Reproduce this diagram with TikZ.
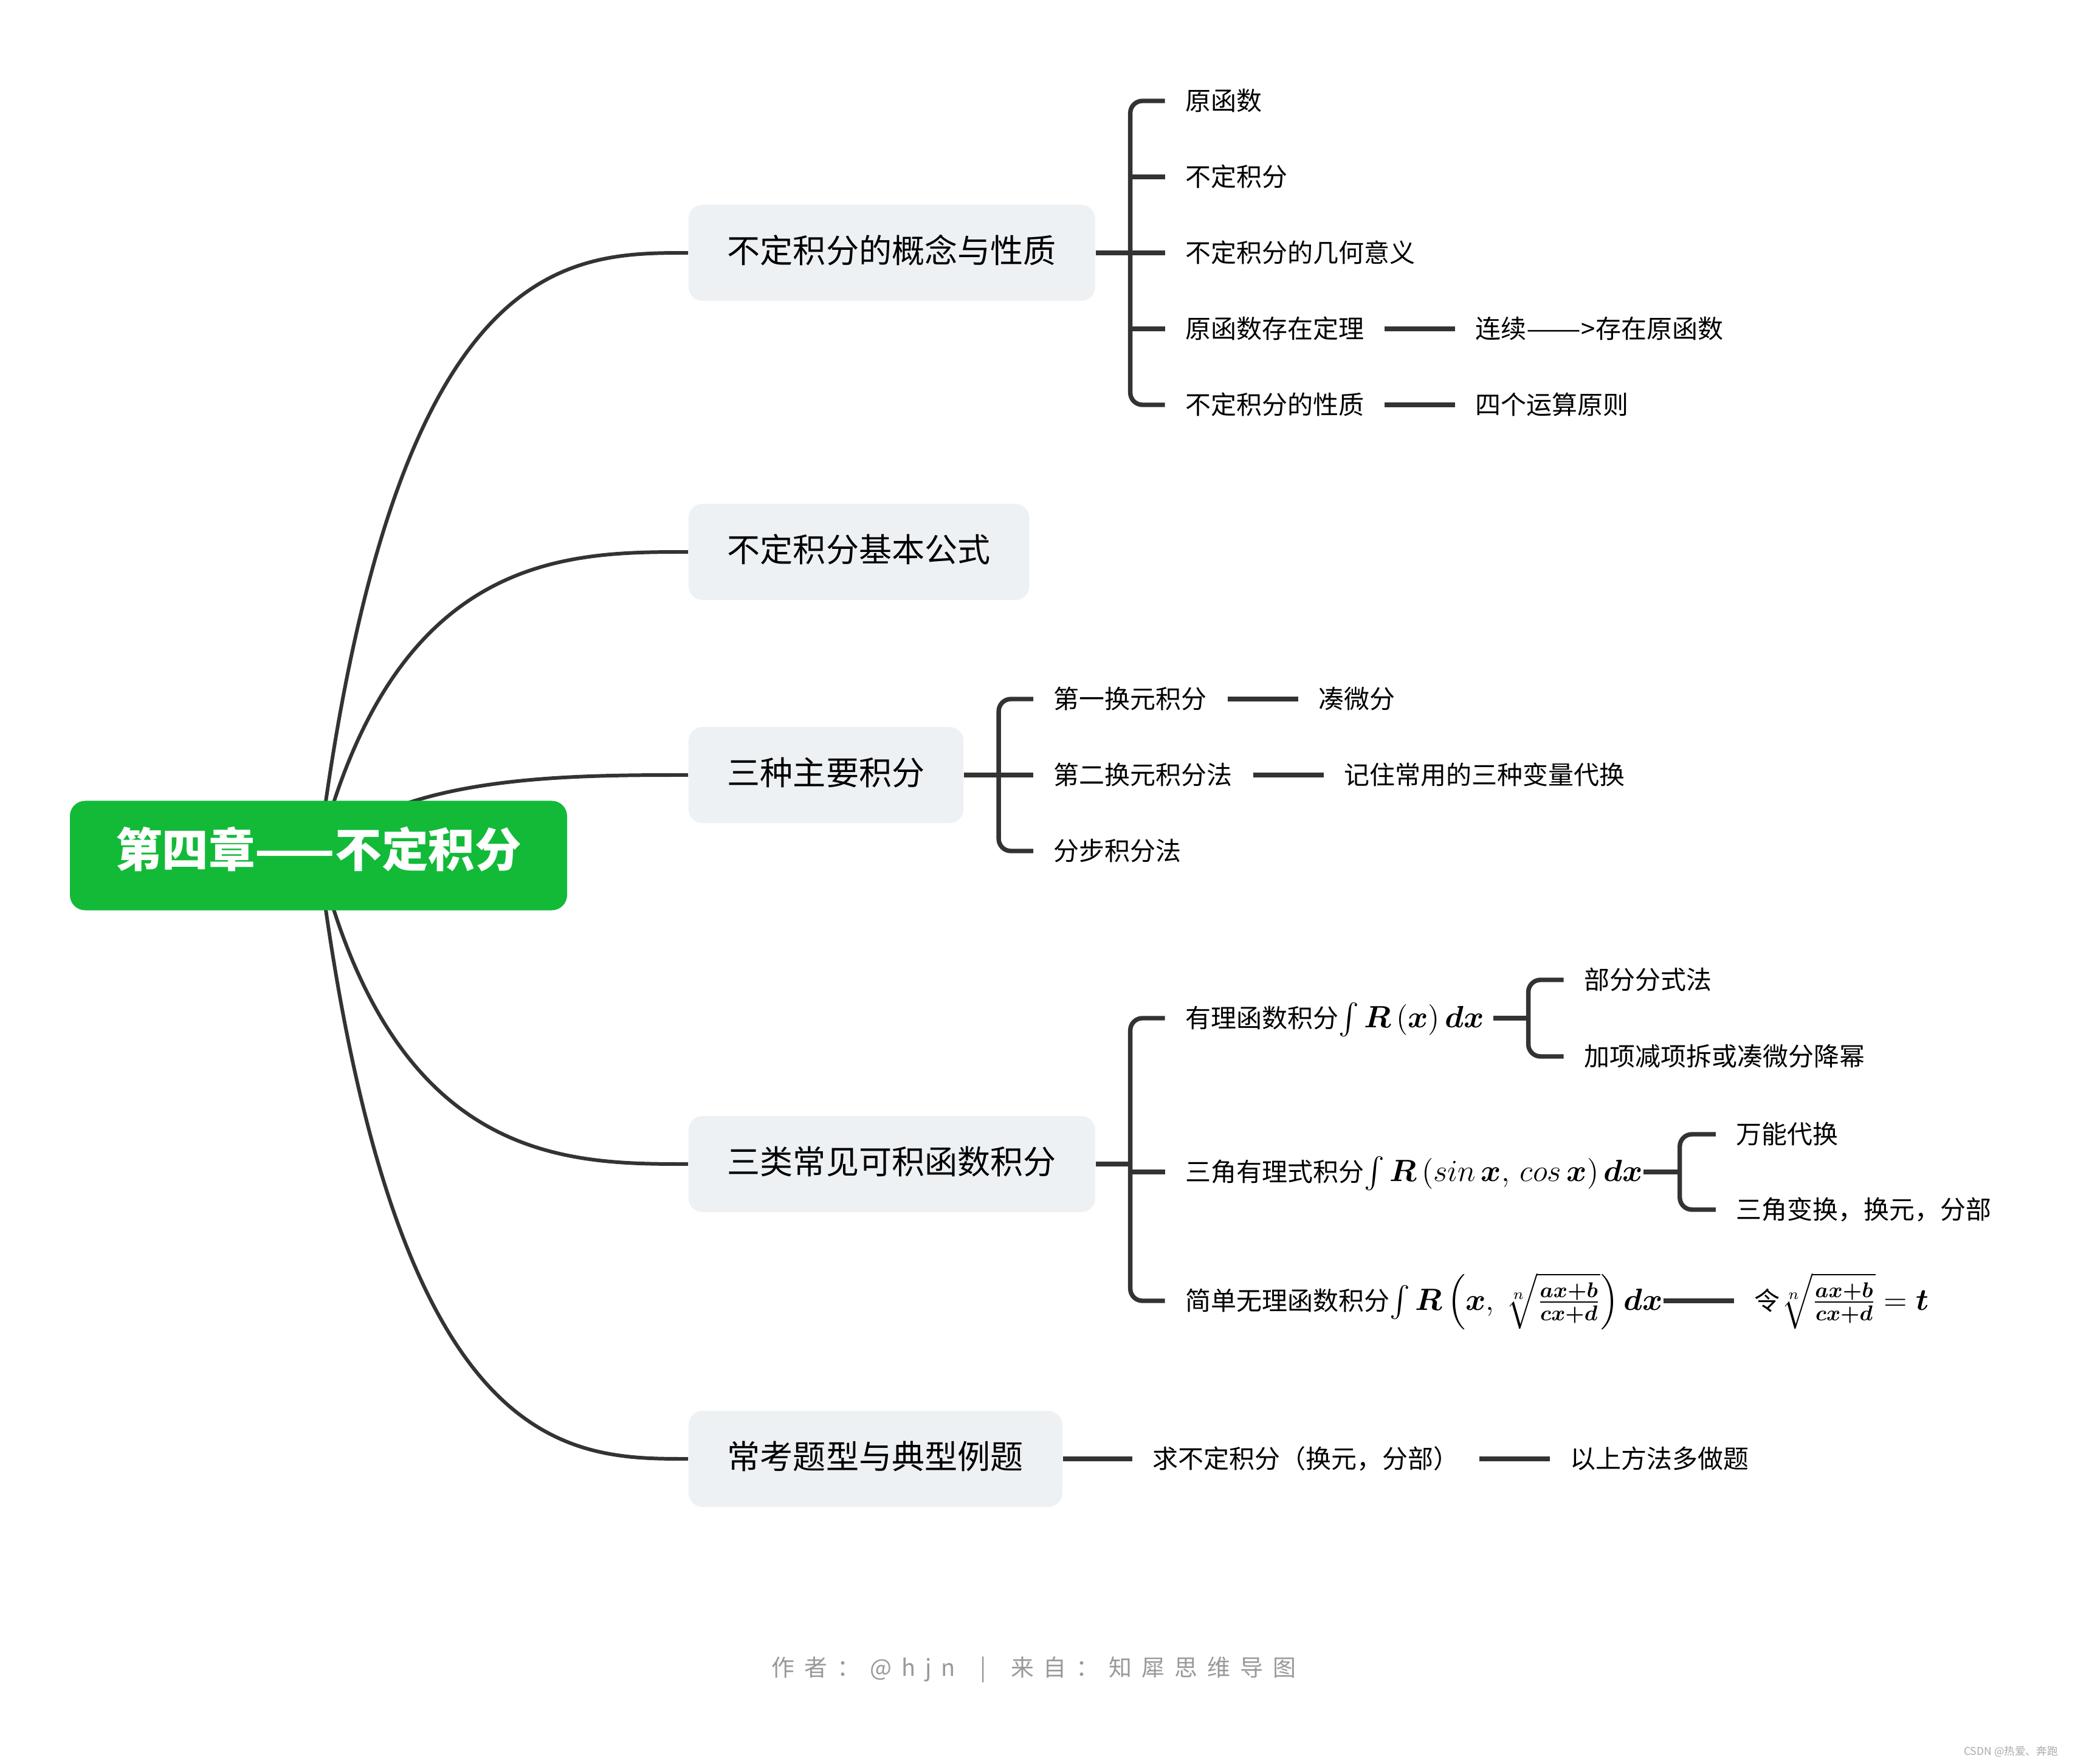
\documentclass[tikz,border=0pt]{standalone}
\usepackage{amsmath}
\usepackage[no-math]{fontspec}
\setmainfont{Noto Sans CJK SC}
\usetikzlibrary{positioning}
\usetikzlibrary{calc}

\definecolor{rootgreen}{HTML}{12BA38}
\definecolor{topicgray}{HTML}{EEF1F4}
\definecolor{linegray}{HTML}{333333}
\definecolor{footgray}{HTML}{999999}
\definecolor{markgray}{HTML}{AAAAAA}

\newcommand\fgap{\hspace{0.16cm}}
\newcommand\fml[1]{{\fontsize{14pt}{16pt}\selectfont$#1$}}

\tikzset{
  rootnode/.style={fill=rootgreen, text=white, rounded corners=0.25cm,
    minimum width=8.18cm, minimum height=1.8cm, inner sep=0pt,
    text height=1.2em, text depth=0.1em,
    font=\fontsize{21.8pt}{25pt}\selectfont\bfseries},
  topic/.style={fill=topicgray, rounded corners=0.23cm, anchor=west,
    inner xsep=0.64cm, inner ysep=0pt, minimum height=1.58cm,
    text height=1.0em, text depth=0.08em,
    font=\fontsize{15.4pt}{18pt}\selectfont},
  leaf/.style={inner xsep=0.33cm, inner ysep=0pt,
    text height=0.95em, text depth=0.09em,
    font=\fontsize{11.95pt}{14pt}\selectfont},
  formula/.style={leaf, inner xsep=0pt, execute at begin node={\hspace{0.33cm}}},
  stem/.style={draw=linegray, line width=1.7pt},
  branch/.style={draw=linegray, line width=2.1pt},
  bracket/.style={branch, rounded corners=0.2cm},
}

\begin{document}
\begin{tikzpicture}
  \useasboundingbox[fill=white] (0,0) rectangle (34.14,-29.02);

  % main topics
  \coordinate (rootc) at (5.24,-14.075);
  \node[topic] (t1) at (11.32,-4.16) {不定积分的概念与性质};
  \node[topic] (t2) at (11.32,-9.08) {不定积分基本公式};
  \node[topic] (t3) at (11.32,-12.75) {三种主要积分};
  \node[topic] (t4) at (11.32,-19.15) {三类常见可积函数积分};
  \node[topic] (t5) at (11.32,-24.00) {常考题型与典型例题};

  \foreach \t in {t1,t2,t3,t4,t5}
    \draw[stem] (rootc) .. controls ($(rootc |- \t.west)+(1.25,0)$) and +(-2,0) .. (\t.west);

  \node[rootnode] (root) at (rootc) {第四章——不定积分};

  % concept and properties
  \coordinate[right=0.57cm of t1] (b1);
  \node[leaf, right=1.14cm of t1] (k3) {不定积分的几何意义};
  \node[leaf, above=1.25cm of k3.west, anchor=west] (k2) {不定积分};
  \node[leaf, above=1.25cm of k2.west, anchor=west] (k1) {原函数};
  \node[leaf, below=1.25cm of k3.west, anchor=west] (k4) {原函数存在定理};
  \node[leaf, below=1.25cm of k4.west, anchor=west] (k5) {不定积分的性质};
  \node[leaf, right=1.16cm of k4] (l4) {连续\scalebox{1.28}[1]{——}>存在原函数};
  \node[leaf, right=1.16cm of k5] (l5) {四个运算原则};

  \draw[branch] (t1.east) -- (k3.west);
  \draw[bracket] (k1.west) -| (b1) |- (k5.west);
  \foreach \k in {k2,k4}
    \draw[branch] (\k.west) -- (\k.west -| b1);
  \draw[branch] (k4) -- (l4);
  \draw[branch] (k5) -- (l5);

  % three methods
  \coordinate[right=0.57cm of t3] (b3);
  \node[leaf, right=1.14cm of t3] (s2) {第二换元积分法};
  \node[leaf, above=1.25cm of s2.west, anchor=west] (s1) {第一换元积分};
  \node[leaf, below=1.25cm of s2.west, anchor=west] (s3) {分步积分法};
  \node[leaf, right=1.16cm of s1] (r1) {凑微分};
  \node[leaf, right=1.16cm of s2] (r2) {记住常用的三种变量代换};

  \draw[branch] (t3.east) -- (s2.west);
  \draw[bracket] (s1.west) -| (b3) |- (s3.west);
  \draw[branch] (s1) -- (r1);
  \draw[branch] (s2) -- (r2);

  % integrable classes
  \coordinate[right=0.57cm of t4] (b4);
  \node[formula, below right=0.13cm and 1.14cm of t4.east, anchor=west] (f2)
    {三角有理式积分\fml{\int\boldsymbol{R}\left(sin\,\boldsymbol{x},\,cos\,\boldsymbol{x}\right)\boldsymbol{dx}}};
  \node[formula, above=2.53cm of f2.west, anchor=west] (f1)
    {有理函数积分\fml{\int\boldsymbol{R}\left(\boldsymbol{x}\right)\boldsymbol{dx}}};
  \node[formula, below=2.12cm of f2.west, anchor=west] (f3)
    {简单无理函数积分\fml{\int\boldsymbol{R}\left(\boldsymbol{x},\,\sqrt[n]{\frac{\boldsymbol{ax+b}}{\boldsymbol{cx+d}}}\right)\boldsymbol{dx}}};

  \coordinate[right=0.72cm of f1] (b41);
  \node[leaf, above right=0.63cm and 1.30cm of f1.east, anchor=west] (g1) {部分分式法};
  \node[leaf, below right=0.63cm and 1.30cm of f1.east, anchor=west] (g2) {加项减项拆或凑微分降幂};
  \coordinate[right=0.60cm of f2] (b42);
  \node[leaf, above right=0.62cm and 1.19cm of f2.east, anchor=west] (h1) {万能代换};
  \node[leaf, below right=0.62cm and 1.19cm of f2.east, anchor=west] (h2) {三角变换，换元，分部};
  \node[leaf, right=1.16cm of f3] (m3)
    {令\fml{\sqrt[n]{\frac{\boldsymbol{ax+b}}{\boldsymbol{cx+d}}}=\boldsymbol{t}}};

  \draw[branch] (t4.east) -- (b4);
  \draw[bracket] (f1.west) -| (b4) |- (f3.west);
  \draw[branch] (f2.west) -- (f2.west -| b4);
  \draw[branch] ([xshift=0.14cm]f1.east) -- (b41);
  \draw[bracket] (g1.west) -| (b41) |- (g2.west);
  \draw[branch] (f2.east) -- (b42);
  \draw[bracket] (h1.west) -| (b42) |- (h2.west);
  \draw[branch] (f3.east) -- (m3.west);

  % exercises
  \node[leaf, right=1.14cm of t5] (c1) {求不定积分（换元，分部）};
  \node[leaf, right=1.16cm of c1] (c2) {以上方法多做题};
  \draw[branch] (t5) -- (c1);
  \draw[branch] (c1) -- (c2);

  % footer
  \node[text=footgray, font=\fontsize{10.8pt}{13pt}\selectfont] (credit) at (17.01,-27.47)
    {作\fgap 者\fgap ：\fgap @\fgap h\fgap j\fgap n\fgap\ \fgap |\fgap\ \fgap 来\fgap 自\fgap ：\fgap 知\fgap 犀\fgap 思\fgap 维\fgap 导\fgap 图};
  \node[text=markgray, font=\fontsize{5pt}{6pt}\selectfont, anchor=east] (mark) at (33.98,-28.82) {CSDN @热爱、奔跑};
\end{tikzpicture}
\end{document}
